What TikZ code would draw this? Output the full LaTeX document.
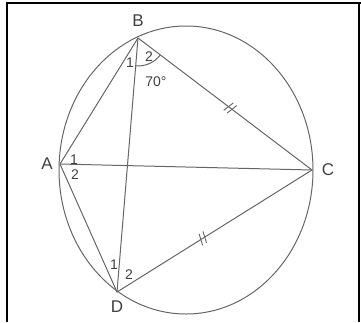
\documentclass[tikz,border=0pt]{standalone}
\usepackage{fontspec}
\setmainfont{Liberation Sans}
\usetikzlibrary{calc}
\begin{document}
\begin{tikzpicture}[x=1pt,y=-1pt,
  geo/.style={draw=black!60, line width=1pt},
  ptlabel/.style={font=\fontsize{17}{17}\selectfont, text=black!75, inner sep=0pt},
  numlabel/.style={font=\fontsize{14}{14}\selectfont, text=black!75, inner sep=0pt},
  frameline/.style={line width=2pt, black},
  tick/.style={draw=black!60, line width=0.9pt}]
\useasboundingbox (0,0) rectangle (361,322);
\draw[frameline] (7,322) -- (7,2.5) -- (361,2.5);
\draw[frameline] (358.5,2.5) -- (358.5,322);
\coordinate (O) at (186,170);
\draw[geo] (O) ellipse [x radius=127, y radius=144];
\coordinate (A) at (60,164);
\coordinate (B) at (138,38);
\coordinate (C) at (312,170);
\coordinate (D) at (117,292);
\draw[geo] (A) -- (B) -- (C) -- (D) -- (A);
\draw[geo] (A) -- (C);
\draw[geo] (B) -- (D);
% angle arc at B
\draw[geo] (160.3,54.9) arc[start angle=-37.2, end angle=-94.7, radius=28pt];
% tick marks
\foreach \f in {0.52,0.54}{
  \draw[tick] ($($(B)!\f!(C)$)!6pt!75:(C)$) -- ($($(B)!\f!(C)$)!6pt!-105:(C)$);
}
\foreach \f in {0.43,0.45}{
  \draw[tick] ($($(D)!\f!(C)$)!6pt!75:(C)$) -- ($($(D)!\f!(C)$)!6pt!-105:(C)$);
}
% labels
\node[ptlabel] (lB) at (138,21) {B};
\node[ptlabel] (lA) at (47,164) {A};
\node[ptlabel] (lC) at (328,170) {C};
\node[ptlabel] (lD) at (117,307) {D};
\node[numlabel] (b1) at (130,63) {1};
\node[numlabel] (b2) at (149,57) {2};
\node[numlabel] (b70) at (156,82) {70°};
\node[numlabel] (a1) at (74,160) {1};
\node[numlabel] (a2) at (75,175) {2};
\node[numlabel] (d1) at (114,265) {1};
\node[numlabel] (d2) at (129,275) {2};
\end{tikzpicture}
\end{document}
